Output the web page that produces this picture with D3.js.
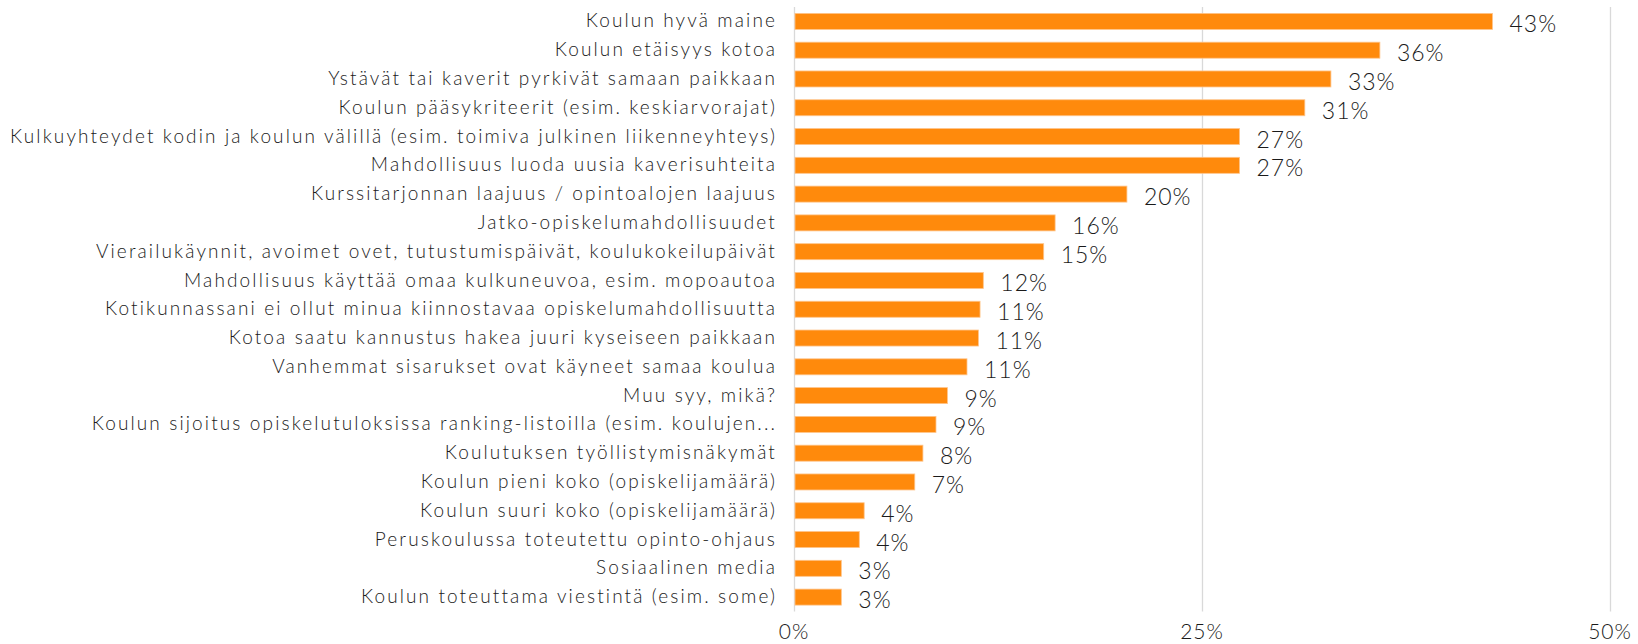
<!DOCTYPE html>
<html>
<head>
<meta charset="utf-8">
<script src="https://cdn.jsdelivr.net/npm/d3@7"></script>
<style>
  html, body { margin: 0; padding: 0; background: #ffffff; }
  svg { display: block; }
  text { font-family: Lato, "Open Sans", sans-serif; font-weight: 300; fill: #1a1a1a; }
</style>
</head>
<body>
<svg id="chart" width="1638" height="644"></svg>
<script>
const categories = [
  "Koulun hyvä maine",
  "Koulun etäisyys kotoa",
  "Ystävät tai kaverit pyrkivät samaan paikkaan",
  "Koulun pääsykriteerit (esim. keskiarvorajat)",
  "Kulkuyhteydet kodin ja koulun välillä (esim. toimiva julkinen liikenneyhteys)",
  "Mahdollisuus luoda uusia kaverisuhteita",
  "Kurssitarjonnan laajuus / opintoalojen laajuus",
  "Jatko-opiskelumahdollisuudet",
  "Vierailukäynnit, avoimet ovet, tutustumispäivät, koulukokeilupäivät",
  "Mahdollisuus käyttää omaa kulkuneuvoa, esim. mopoautoa",
  "Kotikunnassani ei ollut minua kiinnostavaa opiskelumahdollisuutta",
  "Kotoa saatu kannustus hakea juuri kyseiseen paikkaan",
  "Vanhemmat sisarukset ovat käyneet samaa koulua",
  "Muu syy, mikä?",
  "Koulun sijoitus opiskelutuloksissa ranking-listoilla (esim. koulujen...",
  "Koulutuksen työllistymisnäkymät",
  "Koulun pieni koko (opiskelijamäärä)",
  "Koulun suuri koko (opiskelijamäärä)",
  "Peruskoulussa toteutettu opinto-ohjaus",
  "Sosiaalinen media",
  "Koulun toteuttama viestintä (esim. some)"
];
const values = [42.8, 35.9, 32.9, 31.3, 27.3, 27.3, 20.4, 16.0, 15.3, 11.6, 11.4, 11.3, 10.6, 9.4, 8.7, 7.9, 7.4, 4.3, 4.0, 2.9, 2.9];
const tickValues = [0, 25, 50];

const svg = d3.select("#chart");

const x = d3.scaleLinear().domain([0, 50]).range([794, 1610]);
const y = d3.scaleBand().domain(categories).range([7, 611.5]).paddingInner(0.444).paddingOuter(0.222);

// gridlines
svg.append("g").selectAll("line").data(tickValues).join("line")
  .attr("x1", d => x(d) + 0.5).attr("x2", d => x(d) + 0.5)
  .attr("y1", 7).attr("y2", 611.5)
  .attr("stroke", "#d9d9d9").attr("stroke-width", 1.3);

// bars
svg.append("g").selectAll("rect").data(values).join("rect")
  .attr("x", x(0) + 1)
  .attr("y", (d, i) => y(categories[i]))
  .attr("width", d => x(d) - x(0) - 1)
  .attr("height", y.bandwidth())
  .attr("fill", "#ff8a0c")
  .attr("stroke", "#ffc48a")
  .attr("stroke-width", 0.8);

// category labels
const catLabels = svg.append("g").selectAll("text").data(categories).join("text")
  .attr("x", 777)
  .attr("y", d => y(d) + y.bandwidth() / 2)
  .attr("dy", "0.32em")
  .attr("text-anchor", "end")
  .style("font-size", "19px")
  .text(d => d);

// fit letter spacing so longest label spans like the reference
const longest = catLabels.filter((d, i) => i === 4).node();
const natural = longest.getComputedTextLength();
const target = 767;
const ls = Math.max(0, (target - natural) / categories[4].length);
catLabels.style("letter-spacing", ls.toFixed(2) + "px");

// value labels
svg.append("g").selectAll("text").data(values).join("text")
  .attr("x", d => x(d) + 17)
  .attr("y", (d, i) => y(categories[i]) + y.bandwidth() / 2 + 11)
  .style("font-size", "23px")
  .style("letter-spacing", "1px")
  .text(d => Math.round(d) + "%");

// axis tick labels
svg.append("g").selectAll("text").data(tickValues).join("text")
  .attr("x", d => x(d))
  .attr("y", 639)
  .attr("text-anchor", "middle")
  .style("font-size", "21px")
  .style("letter-spacing", "1px")
  .text(d => d + "%");
</script>
</body>
</html>
